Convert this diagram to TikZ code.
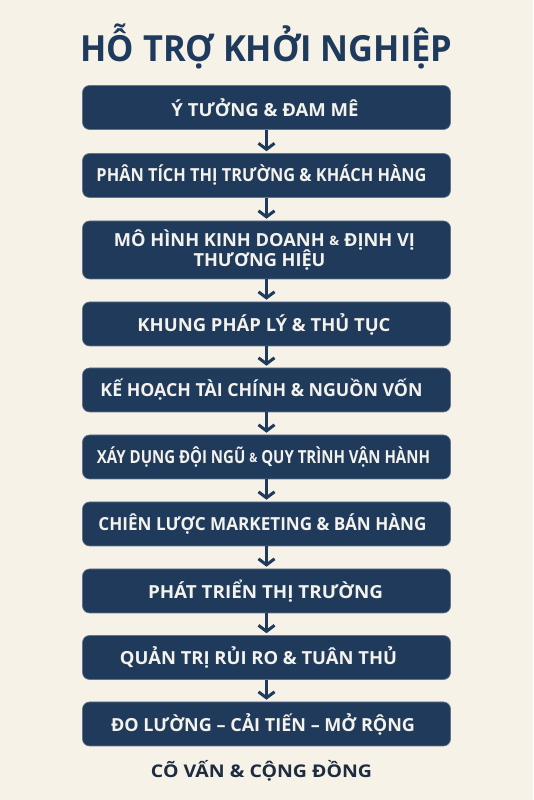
\documentclass[tikz,border=0pt]{standalone}
\usepackage{fontspec}
\setmainfont{Open Sans}
\usetikzlibrary{arrows.meta}
\definecolor{bg}{RGB}{246,242,232}
\definecolor{navy}{RGB}{31,58,90}
\definecolor{titlec}{RGB}{30,58,92}
\definecolor{boxtext}{RGB}{244,242,236}
\definecolor{foot}{RGB}{30,44,64}
\newcommand{\fitw}[3][0pt]{\hbox{\kern#1\relax\resizebox{#2}{\height}{#3}\kern-#1\relax}}
\newcommand{\smamp}{\raisebox{0.5pt}{\scalebox{0.72}{\&}}}
\tikzset{
  stepbox/.style={fill=navy, draw=navy!70!white, line width=0.6pt, rounded corners=7pt,
    minimum width=368pt, minimum height=44pt, inner sep=0pt, text=boxtext,
    font=\fontsize{18}{19.5}\selectfont\bfseries, align=center},
  flow/.style={draw=navy, line width=3pt, -{Straight Barb[length=6pt,width=16pt,line width=3pt]}, shorten >=2pt}
}
\begin{document}
\begin{tikzpicture}[x=1pt,y=1pt]
\fill[bg] (0,0) rectangle (533,800);
\useasboundingbox (0,0) rectangle (533,800);
\node[text=titlec, font=\fontsize{36}{40}\selectfont\bfseries, inner sep=0pt] (title) at (266.5,800-46) {\fitw{372pt}{HỖ TRỢ KHỞI NGHIỆP}};
\node[stepbox] (b1) at (266.5,800-107.5) {\fitw[-1.5pt]{187pt}{Ý TƯỞNG \& ĐAM MÊ}};
\node[stepbox] (b2) at (266.5,800-175.5) {\fitw[-5pt]{330pt}{PHÂN TÍCH THỊ TRƯỜNG \& KHÁCH HÀNG}};
\node[stepbox, minimum height=58pt] (b3) at (266.5,800-250) {\fitw[-2pt]{301pt}{MÔ HÌNH KINH DOANH \smamp{} ĐỊNH VỊ}\\[-1pt]\fitw[-7pt]{132pt}{THƯƠNG HIỆU}};
\node[stepbox] (b4) at (266.5,800-324) {\fitw[-2.5pt]{253pt}{KHUNG PHÁP LÝ \& THỦ TỤC}};
\node[stepbox] (b5) at (266.5,800-390) {\fitw[-5pt]{322pt}{KẾ HOẠCH TÀI CHÍNH \& NGUỒN VỐN}};
\node[stepbox] (b6) at (266.5,800-457) {\fitw[-3pt]{333pt}{XÁY DỤNG ĐỘI NGŨ \smamp{} QUY TRÌNH VẬN HÀNH}};
\node[stepbox] (b7) at (266.5,800-524) {\fitw[-4pt]{328pt}{CHIÊN LƯỢC MARKETING \& BÁN HÀNG}};
\node[stepbox] (b8) at (266.5,800-591) {\fitw[-1pt]{235pt}{PHÁT TRIỂN THỊ TRƯỜNG}};
\node[stepbox] (b9) at (266.5,800-657.5) {\fitw[-8pt]{277pt}{QUẢN TRỊ RỦI RO \& TUÂN THỦ}};
\node[stepbox] (b10) at (266.5,800-724) {\fitw[-3.5pt]{304pt}{ĐO LƯỜNG – CẢI TIẾN – MỞ RỘNG}};
\node[text=foot, font=\fontsize{17.5}{19}\selectfont\bfseries, inner sep=0pt] (foot) at (261.5,800-771) {\fitw{221pt}{CÕ VẤN \& CỘNG ĐỒNG}};
\foreach \a/\b in {b1/b2,b2/b3,b3/b4,b4/b5,b5/b6,b6/b7,b7/b8,b8/b9,b9/b10}
  \draw[flow] (\a.south) -- (\b.north);
\end{tikzpicture}
\end{document}
